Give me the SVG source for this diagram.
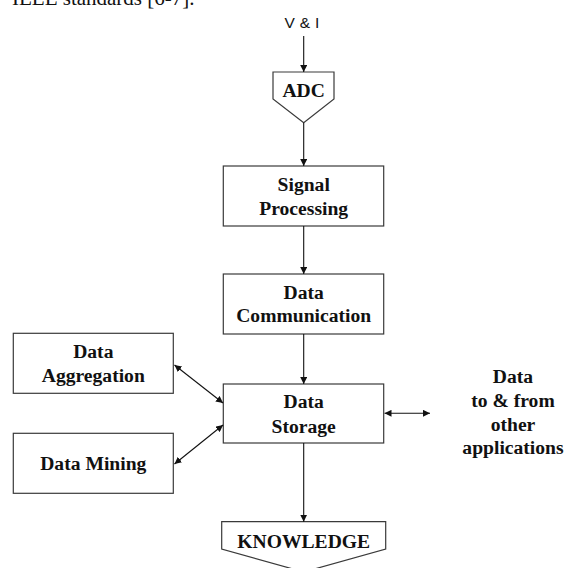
<svg xmlns="http://www.w3.org/2000/svg" width="571" height="568" viewBox="0 0 571 568">
  <style>
    .box { fill: #ffffff; stroke: #3a3a3a; stroke-width: 1.2; }
    .lbl { font-family: "Liberation Serif", "Times New Roman", serif; font-weight: bold; font-size: 19.6px; fill: #111; text-anchor: middle; }
    .link { stroke: #111; stroke-width: 1.1; fill: none; }
  </style>
  <defs>
    <marker id="head" viewBox="0 0 10 10" refX="10" refY="5" markerWidth="7" markerHeight="7" markerUnits="userSpaceOnUse" orient="auto">
      <path d="M0,0 L10,5 L0,10 z" fill="#111"/>
    </marker>
    <marker id="tail" viewBox="0 0 10 10" refX="0" refY="5" markerWidth="7" markerHeight="7" markerUnits="userSpaceOnUse" orient="auto">
      <path d="M10,0 L0,5 L10,10 z" fill="#111"/>
    </marker>
  </defs>

  <rect width="571" height="568" fill="#ffffff"/>

  <!-- running text of the page above the figure -->
  <text x="12" y="5" font-family="Liberation Serif, Times New Roman, serif" font-size="21" fill="#111">IEEE standards [6-7].</text>

  <g id="input">
    <text x="302" y="27.5" font-family="Liberation Sans, Arial, sans-serif" font-size="15.5" fill="#111" text-anchor="middle" letter-spacing="0.3">V &amp; I</text>
  </g>

  <g id="adc">
    <path class="box" d="M273,72 H334 V99 L303.7,122.7 L273,99 Z"/>
    <text class="lbl" x="303.7" y="96.5">ADC</text>
  </g>

  <g id="signal-processing">
    <rect class="box" x="223.3" y="166" width="160.4" height="60"/>
    <text class="lbl" x="303.7" y="191">Signal</text>
    <text class="lbl" x="303.7" y="214.5">Processing</text>
  </g>

  <g id="data-communication">
    <rect class="box" x="223.3" y="274" width="160.4" height="60"/>
    <text class="lbl" x="303.7" y="298.5">Data</text>
    <text class="lbl" x="303.7" y="322">Communication</text>
  </g>

  <g id="data-storage">
    <rect class="box" x="223.3" y="384" width="160.4" height="59"/>
    <text class="lbl" x="303.7" y="408.4">Data</text>
    <text class="lbl" x="303.7" y="432.5">Storage</text>
  </g>

  <g id="data-aggregation">
    <rect class="box" x="13.3" y="333.3" width="160" height="60"/>
    <text class="lbl" x="93.3" y="357.9">Data</text>
    <text class="lbl" x="93.3" y="381.5">Aggregation</text>
  </g>

  <g id="data-mining">
    <rect class="box" x="13.3" y="433.3" width="160" height="60"/>
    <text class="lbl" x="93.3" y="469.5">Data Mining</text>
  </g>

  <g id="other-applications">
    <text class="lbl" x="513" y="383">Data</text>
    <text class="lbl" x="513" y="406.7">to &amp; from</text>
    <text class="lbl" x="513" y="430.5">other</text>
    <text class="lbl" x="513" y="454">applications</text>
  </g>

  <g id="knowledge">
    <path class="box" d="M221.7,521.7 H385.7 V549 L303.7,572 L221.7,549 Z"/>
    <text class="lbl" x="303.7" y="548">KNOWLEDGE</text>
  </g>

  <g id="connectors">
    <line class="link" x1="303.7" y1="36" x2="303.7" y2="72" marker-end="url(#head)"/>
    <line class="link" x1="303.7" y1="122.7" x2="303.7" y2="166" marker-end="url(#head)"/>
    <line class="link" x1="303.7" y1="226" x2="303.7" y2="274" marker-end="url(#head)"/>
    <line class="link" x1="303.7" y1="334" x2="303.7" y2="384" marker-end="url(#head)"/>
    <line class="link" x1="303.7" y1="443" x2="303.7" y2="521.7" marker-end="url(#head)"/>
    <line class="link" x1="174.5" y1="365" x2="223" y2="403" marker-start="url(#tail)" marker-end="url(#head)"/>
    <line class="link" x1="174.5" y1="464" x2="223" y2="425" marker-start="url(#tail)" marker-end="url(#head)"/>
    <line class="link" x1="384.5" y1="413.3" x2="430" y2="413.3" marker-start="url(#tail)" marker-end="url(#head)"/>
  </g>
</svg>
